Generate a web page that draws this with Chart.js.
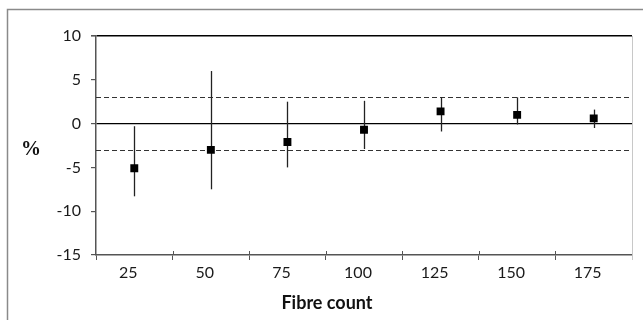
<!DOCTYPE html>
<html>
<head>
<meta charset="utf-8">
<script src="https://cdn.jsdelivr.net/npm/chart.js@4.4.1/dist/chart.umd.min.js"></script>
<style>
  html, body { margin: 0; padding: 0; background: #fff; }
  #wrap { width: 643px; height: 320px; }
</style>
</head>
<body>
<div id="wrap"><canvas id="fibre-chart" width="643" height="320"></canvas></div>
<script>
const fibreCounts = ['25', '50', '75', '100', '125', '150', '175'];
const meanDiff   = [-5.1, -3.0, -2.1, -0.7, 1.4, 1.0, 0.6];
const upperLimit = [-0.3, 6.0, 2.5, 2.6, 3.0, 3.0, 1.6];
const lowerLimit = [-8.3, -7.5, -5.0, -2.9, -0.9, -0.1, -0.5];
const yTicks = [-15, -10, -5, 0, 5, 10];
const limitLines = [3, -3];
const solidLines = [0, 10];

const axisColor = '#555';

// error bars, reference lines and extra text
const extras = {
    id: 'extras',
    beforeDraw(chart) {
        const ctx = chart.ctx;
        ctx.save();
        ctx.strokeStyle = '#8a8a8a';
        ctx.lineWidth = 1.5;
        ctx.strokeRect(7.5, 9.5, 700, 400);
        ctx.restore();
    },
    beforeDatasetsDraw(chart) {
        const ctx = chart.ctx;
        const xs = chart.scales.x, ys = chart.scales.y;
        const area = chart.chartArea;
        ctx.save();

        // plot right border
        ctx.strokeStyle = '#c8c8c8';
        ctx.lineWidth = 1;
        ctx.beginPath();
        ctx.moveTo(area.right + 0.5, area.top);
        ctx.lineTo(area.right + 0.5, area.bottom + 5);
        ctx.stroke();

        // ±3 dashed lines
        ctx.strokeStyle = '#333';
        ctx.lineWidth = 1;
        ctx.setLineDash([5, 3]);
        limitLines.forEach(v => {
            const y = Math.round(ys.getPixelForValue(v)) + 0.5;
            ctx.beginPath();
            ctx.moveTo(area.left, y);
            ctx.lineTo(area.right, y);
            ctx.stroke();
        });
        ctx.setLineDash([]);

        // upward half of the x ticks
        ctx.strokeStyle = axisColor;
        for (let i = 1; i < fibreCounts.length; i++) {
            const x = Math.round((xs.getPixelForTick(i - 1) + xs.getPixelForTick(i)) / 2) + 0.5;
            ctx.beginPath();
            ctx.moveTo(x, area.bottom - 4);
            ctx.lineTo(x, area.bottom);
            ctx.stroke();
        }

        // error bars
        ctx.strokeStyle = '#222';
        ctx.lineWidth = 1.3;
        fibreCounts.forEach((c, i) => {
            const x = Math.round(xs.getPixelForValue(i)) + 0.5;
            ctx.beginPath();
            ctx.moveTo(x, ys.getPixelForValue(upperLimit[i]));
            ctx.lineTo(x, ys.getPixelForValue(lowerLimit[i]));
            ctx.stroke();
        });

        // titles
        ctx.fillStyle = '#111';
        ctx.textAlign = 'center';
        ctx.textBaseline = 'middle';
        ctx.font = 'bold 20px "Liberation Serif"';
        ctx.fillText('%', 31, 150);
        ctx.font = 'bold 18px Lato';
        ctx.fillText('Fibre count', 327, 303);
        ctx.restore();
    }
};

new Chart(document.getElementById('fibre-chart'), {
    type: 'line',
    data: {
        labels: fibreCounts,
        datasets: [{
            label: 'Mean difference',
            data: meanDiff,
            showLine: false,
            pointStyle: 'rect',
            pointRadius: 5.6,
            pointHoverRadius: 5.6,
            pointBackgroundColor: '#000',
            pointBorderColor: '#000',
            pointBorderWidth: 0,
        }]
    },
    options: {
        responsive: false,
        animation: false,
        layout: { padding: { top: 36, right: 11, left: 0, bottom: 0 } },
        plugins: { legend: { display: false }, tooltip: { enabled: false } },
        scales: {
            x: {
                type: 'category',
                offset: true,
                afterFit: s => { s.height = 65; },
                grid: {
                    display: true,
                    drawOnChartArea: false,
                    offset: true,
                    tickLength: 5,
                    color: axisColor,
                    lineWidth: 1,
                },
                border: { color: axisColor, width: 1.5 },
                ticks: {
                    color: '#1a1a1a',
                    font: { family: 'Lato', size: 16 },
                    padding: 3,
                    labelOffset: -6,
                    maxRotation: 0,
                }
            },
            y: {
                min: yTicks[0],
                max: yTicks[yTicks.length - 1],
                afterFit: s => { s.width = 96; },
                afterBuildTicks: s => { s.ticks = yTicks.map(v => ({ value: v })); },
                grid: {
                    color: c => solidLines.includes(c.tick.value) ? '#000' : 'rgba(0,0,0,0)',
                    lineWidth: c => c.tick.value === 10 ? 1.6 : 1.2,
                    tickColor: axisColor,
                    tickLength: 5,
                },
                border: { color: axisColor, width: 1.5 },
                ticks: {
                    color: '#1a1a1a',
                    font: { family: 'Lato', size: 16 },
                    padding: 10,
                }
            }
        }
    },
    plugins: [extras]
});
</script>
</body>
</html>
